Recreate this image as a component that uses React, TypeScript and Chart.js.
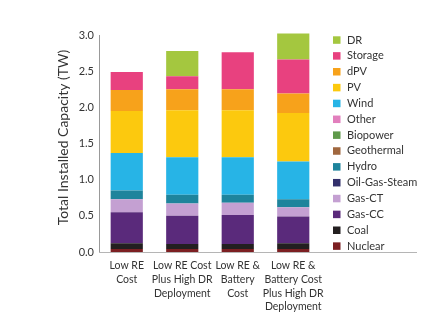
import React, { useEffect, useRef } from 'react';
import { Chart, registerables } from 'chart.js';

Chart.register(...registerables);

const categories: string[][] = [
  ['Low RE', 'Cost'],
  ['Low RE Cost', 'Plus High DR', 'Deployment'],
  ['Low RE &', 'Battery', 'Cost'],
  ['Low RE &', 'Battery Cost', 'Plus High DR', 'Deployment'],
];

// stacked from the bottom up
const seriesNames = ['Nuclear', 'Coal', 'Gas-CC', 'Gas-CT', 'Oil-Gas-Steam', 'Hydro', 'Geothermal', 'Biopower', 'Other', 'Wind', 'PV', 'dPV', 'Storage', 'DR'];
const seriesColors = ['#7c1f22', '#231f20', '#5a2a7b', '#c4a0d2', '#33306c', '#1e849c', '#a0673e', '#5f9a4b', '#e27fbd', '#27b4e6', '#fcc90e', '#f7a21b', '#e8417f', '#a4c73f'];

const nuclear = [0.04, 0.04, 0.04, 0.04];
const coal = [0.08, 0.07, 0.07, 0.08];
const gasCC = [0.43, 0.39, 0.40, 0.37];
const gasCT = [0.18, 0.17, 0.17, 0.13];
const oilGasSteam = [0, 0, 0, 0];
const hydro = [0.12, 0.12, 0.11, 0.11];
const geothermal = [0, 0, 0, 0];
const biopower = [0, 0, 0, 0];
const other = [0, 0, 0, 0];
const wind = [0.52, 0.52, 0.52, 0.52];
const pv = [0.58, 0.65, 0.65, 0.67];
const dpv = [0.29, 0.29, 0.29, 0.27];
const storage = [0.25, 0.18, 0.51, 0.47];
const dr = [0, 0.35, 0, 0.36];

const seriesValues = [nuclear, coal, gasCC, gasCT, oilGasSteam, hydro, geothermal, biopower, other, wind, pv, dpv, storage, dr];

const yTicks = [0, 0.5, 1.0, 1.5, 2.0, 2.5, 3.0];
const yTitle = 'Total Installed Capacity (TW)';

const FONT = 'Lato, "Open Sans", sans-serif';

const extrasPlugin = {
  id: 'extras',
  afterDraw(chart: any) {
    const ctx = chart.ctx;
    const area = chart.chartArea;
    ctx.save();
    // x axis line extended under the legend
    ctx.strokeStyle = '#b5b5b5';
    ctx.lineWidth = 1;
    ctx.beginPath();
    ctx.moveTo(area.left, area.bottom + 0.5);
    ctx.lineTo(417, area.bottom + 0.5);
    ctx.stroke();

    // y title
    ctx.fillStyle = '#333';
    ctx.font = '14px ' + FONT;
    ctx.textAlign = 'center';
    ctx.textBaseline = 'middle';
    ctx.translate(63, 137.5);
    ctx.rotate(-Math.PI / 2);
    ctx.fillText(yTitle, 0, 0);
    ctx.restore();

    // legend (top: DR ... bottom: Nuclear)
    ctx.save();
    ctx.font = '11px ' + FONT;
    ctx.textAlign = 'left';
    ctx.textBaseline = 'middle';
    const n = seriesNames.length;
    for (let i = 0; i < n; i++) {
      const idx = n - 1 - i;
      const cy = 40 + i * 15.85;
      ctx.fillStyle = seriesColors[idx];
      ctx.fillRect(333, cy - 3.7, 7.5, 7.5);
      ctx.fillStyle = '#333';
      ctx.fillText(seriesNames[idx], 347, cy);
    }
    ctx.restore();
  },
};

export default function App() {
  const ref = useRef<HTMLCanvasElement | null>(null);
  useEffect(() => {
    document.body.style.margin = '0';
    const canvas = ref.current!;
    const chart = new Chart(canvas, {
      type: 'bar',
      data: {
        labels: categories as any,
        datasets: seriesNames.map((name, i) => ({
          label: name,
          data: seriesValues[i],
          backgroundColor: seriesColors[i],
          borderWidth: 0,
          categoryPercentage: 1,
          barPercentage: 0.58,
          clip: false as any,
        })),
      },
      options: {
        responsive: false,
        animation: false,
        layout: { padding: { top: 35, right: 119, left: 0, bottom: 0 } },
        plugins: {
          legend: { display: false },
          tooltip: { enabled: false },
        },
        scales: {
          x: {
            stacked: true,
            grid: { display: false, drawTicks: false },
            border: { display: false },
            ticks: {
              color: '#333',
              font: { family: FONT, size: 10.5, lineHeight: 1.3 },
              padding: 7,
              maxRotation: 0,
              autoSkip: false,
            },
            afterFit(scale: any) {
              scale.height = 70;
            },
          },
          y: {
            stacked: true,
            min: 0,
            max: 3.0,
            grid: { display: false, drawTicks: false },
            border: { display: true, color: '#999', width: 1 },
            afterBuildTicks(scale: any) {
              scale.ticks = yTicks.map((v) => ({ value: v }));
            },
            ticks: {
              color: '#333',
              font: { family: FONT, size: 11 },
              padding: 5,
              callback: (v: any) => Number(v).toFixed(1),
            },
            afterFit(scale: any) {
              scale.width = 99;
            },
          },
        },
      },
      plugins: [extrasPlugin],
    });
    return () => chart.destroy();
  }, []);
  return (
    <div style={{ position: 'fixed', left: 0, top: 0, width: 440, height: 322, background: '#fff' }}>
      <canvas ref={ref} width={440} height={322} />
    </div>
  );
}
